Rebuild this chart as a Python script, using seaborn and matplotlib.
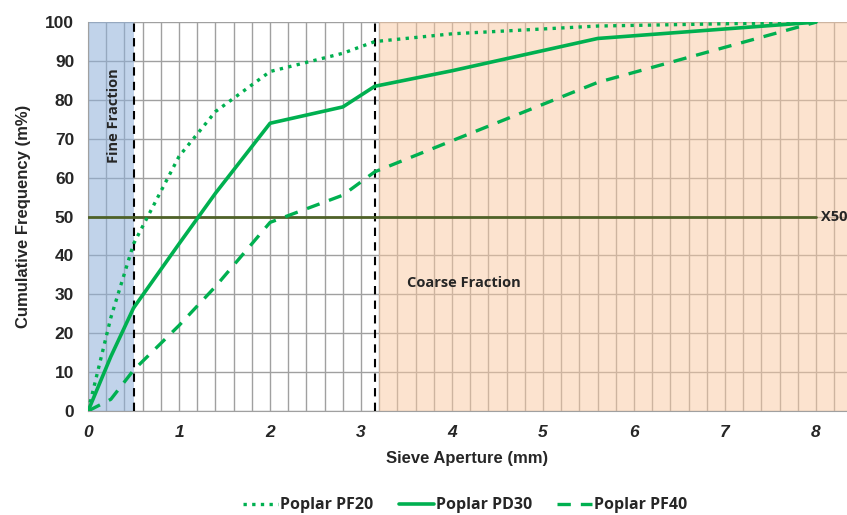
import numpy as np
import pandas as pd
import seaborn as sns
import matplotlib.pyplot as plt
from matplotlib.ticker import MultipleLocator

# sieve apertures (mm) and cumulative passing (m%)
sieve = [0, 0.25, 0.5, 1.0, 1.4, 2.0, 2.8, 3.15, 4.0, 5.6, 8.0]
pf20 = [0, 24, 43, 65.5, 77, 87.3, 92, 95, 97, 99, 100]
pd30 = [0, 14, 26.5, 43, 56, 74, 78.2, 83.5, 87.5, 95.8, 100]
pf40 = [0, 3, 10.5, 22, 32, 48.5, 55.5, 61.5, 69.5, 84.5, 100]
series = ["Poplar PF20", "Poplar PD30", "Poplar PF40"]
styles = [(0, (1, 1.6)), "-", (0, (4, 3))]

fine_cut = 0.5
coarse_cut = 3.15
x50 = 50

sns.set_style("white")
plt.rcParams['font.family'] = ['Liberation Sans', 'DejaVu Sans']

df = pd.DataFrame({"x": sieve * 3,
                   "y": pf20 + pd30 + pf40,
                   "s": sum([[n] * len(sieve) for n in series], [])})

fig = plt.figure(figsize=(8.47, 5.15), dpi=100)
ax = fig.add_axes([0.104, 0.202, 0.896, 0.755])

green = "#00B050"
for name, ls in zip(series, styles):
    sns.lineplot(data=df[df.s == name], x="x", y="y", ax=ax, color=green,
                 lw=2.6 if ls == "-" else 2.4, linestyle=ls, label=name, zorder=5)

# shaded fractions over the grid
ax.axvspan(0, fine_cut, color="#8EB0DA", alpha=0.55, lw=0, zorder=2)
ax.axvspan(3.2, 8.6, color="#FBC9A0", alpha=0.5, lw=0, zorder=2)
ax.axvline(fine_cut, color="black", ls=(0, (4, 3)), lw=1.5, zorder=4)
ax.axvline(coarse_cut, color="black", ls=(0, (4, 3)), lw=1.5, zorder=4)
ax.plot([0, 8], [x50, x50], color="#4F6228", lw=2, zorder=4)

ax.text(8.05, x50, "X50", fontsize=10.5, fontweight="bold", va="center",
        family=["Open Sans", "DejaVu Sans"])
ax.text(0.28, 76, "Fine Fraction", rotation=90, fontsize=10.5, fontweight="bold",
        ha="center", va="center", family=["Open Sans", "DejaVu Sans"])
ax.text(3.5, 33, "Coarse Fraction", fontsize=10.5, fontweight="bold",
        va="center", family=["Open Sans", "DejaVu Sans"])

ax.set_xlim(0, 8.34)
ax.set_ylim(0, 100)
ax.xaxis.set_major_locator(MultipleLocator(1))
ax.xaxis.set_minor_locator(MultipleLocator(0.2))
ax.yaxis.set_major_locator(MultipleLocator(10))
ax.grid(True, which="both", axis="x", color="#a0a0a0", lw=1, zorder=1)
ax.grid(True, which="major", axis="y", color="#a0a0a0", lw=1, zorder=1)
ax.set_axisbelow(True)

for s in ["top", "right"]:
    ax.spines[s].set_visible(False)
for s in ["left", "bottom"]:
    ax.spines[s].set_color("#a0a0a0")
ax.tick_params(axis="both", which="major", length=4, color="#a0a0a0", pad=6)
ax.tick_params(axis="x", which="minor", length=0)

for t in ax.get_yticklabels():
    t.set_fontweight("bold")
    t.set_fontsize(12.5)
for t in ax.get_xticklabels():
    t.set_fontweight("bold")
    t.set_fontstyle("italic")
    t.set_fontsize(12.5)
    t.set_family(["Liberation Sans Narrow", "Liberation Sans", "DejaVu Sans"])

ax.set_xlabel("Sieve Aperture (mm)", fontsize=12, fontweight="bold", labelpad=8,
              family=["Liberation Sans Narrow", "Liberation Sans", "DejaVu Sans"])
ax.set_ylabel("Cumulative Frequency (m%)", fontsize=12, fontweight="bold", labelpad=10)

handles, labels = ax.get_legend_handles_labels()
ax.legend(handles, labels, loc="lower center", bbox_to_anchor=(0.497, -0.3),
          ncol=3, frameon=False, handlelength=2.2, handletextpad=0.1,
          columnspacing=1.6, prop={"family": ["Open Sans", "DejaVu Sans"],
                                   "weight": "bold", "size": 11.5})

fig.savefig("out.png", dpi=100)
